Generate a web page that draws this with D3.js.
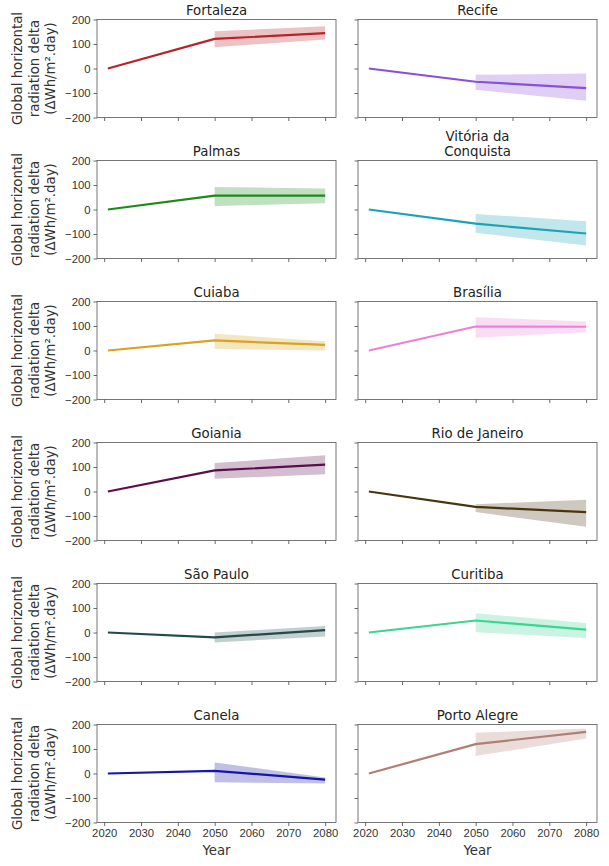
<!DOCTYPE html>
<html>
<head>
<meta charset="utf-8">
<script src="https://cdn.jsdelivr.net/npm/d3@7"></script>
<style>
body { margin: 0; background: #fff; }
svg { display: block; font-family: "DejaVu Sans", sans-serif; }
</style>
</head>
<body>
<svg id="chart" width="609" height="866"></svg>
<script>
const cities = ["Fortaleza", "Recife", "Palmas", "Vitória da\nConquista", "Cuiaba", "Brasília",
  "Goiania", "Rio de Janeiro", "São Paulo", "Curitiba", "Canela", "Porto Alegre"];
const years = [2021, 2050, 2080];
const bandYears = [2050, 2080];
const lineValues = [
  [0, 121, 144],
  [0, -54, -80],
  [0, 57, 57],
  [0, -58, -98],
  [0, 41, 23],
  [0, 98, 97],
  [0, 86, 110],
  [0, -63, -84],
  [0, -20, 10],
  [0, 49, 12],
  [0, 11, -25],
  [0, 120, 170]
];
const bandLow = [
  [87, 118], [-87, -132], [14, 26], [-95, -147], [7, 0], [52, 75],
  [52, 70], [-84, -144], [-41, -16], [1, -22], [-36, -41], [71, 143]
];
const bandHigh = [
  [152, 172], [-26, -20], [92, 86], [-18, -48], [68, 38], [136, 118],
  [116, 148], [-52, -34], [0, 27], [79, 39], [45, -16], [166, 184]
];
const colors = ["#b8232a", "#8a4fd6", "#1b8a1b", "#1aa2b6", "#d9a21f", "#ec80d8",
  "#5a0f4c", "#4a3410", "#224a4a", "#3ad690", "#1515a8", "#b07e74"];
const yTicks = [-200, -100, 0, 100, 200];
const xTicks = [2020, 2030, 2040, 2050, 2060, 2070, 2080];
const yLabelLines = ["Global horizontal", "radiation delta", "(ΔWh/m².day)"];

const svg = d3.select("#chart");
const colX = [97, 358];
const panelW = 239;
const rowTop0 = 19.5;
const rowStep = 141;
const panelH = 98;

const x = d3.scaleLinear().domain([2021 - 59 * 0.05, 2080 + 59 * 0.05]).range([0, panelW]);
const y = d3.scaleLinear().domain([-200, 200]).range([panelH, 0]);

cities.forEach((name, i) => {
  const col = i % 2, row = Math.floor(i / 2);
  const g = svg.append("g").attr("transform", `translate(${colX[col]},${rowTop0 + row * rowStep})`);

  const bandData = bandYears.map((yr, k) => ({ yr, lo: bandLow[i][k], hi: bandHigh[i][k] }));
  g.append("path")
    .datum(bandData)
    .attr("d", d3.area().x(d => x(d.yr)).y0(d => y(d.lo)).y1(d => y(d.hi)))
    .attr("fill", colors[i]).attr("fill-opacity", 0.27).attr("stroke", "none");

  const lineData = years.map((yr, k) => ({ yr, v: lineValues[i][k] }));
  g.append("path")
    .datum(lineData)
    .attr("d", d3.line().x(d => x(d.yr)).y(d => y(d.v)))
    .attr("fill", "none").attr("stroke", colors[i]).attr("stroke-width", 2.2)
    .attr("stroke-linejoin", "round");

  const yAxis = d3.axisLeft(y).tickValues(yTicks).tickSize(3.5).tickPadding(3)
    .tickFormat(col === 0 ? (d => d < 0 ? "\u2212" + Math.abs(d) : d) : () => "");
  const ya = g.append("g").call(yAxis);
  const xAxis = d3.axisBottom(x).tickValues(xTicks).tickSize(3.5).tickPadding(3)
    .tickFormat(row === 5 ? d3.format("d") : () => "");
  const xa = g.append("g").attr("transform", `translate(0,${panelH})`).call(xAxis);
  [ya, xa].forEach(a => {
    a.select(".domain").remove();
    a.selectAll("line").attr("stroke", "#444").attr("stroke-width", 0.8);
    a.selectAll("text").attr("fill", "#333").style("font-size", "11.3px");
  });

  g.append("rect").attr("width", panelW).attr("height", panelH)
    .attr("fill", "none").attr("stroke", "#555").attr("stroke-width", 0.8);

  const lines = name.split("\n");
  lines.forEach((t, k) => {
    g.append("text").attr("x", panelW / 2).attr("y", -5 - (lines.length - 1 - k) * 15)
      .attr("text-anchor", "middle").attr("fill", "#222").style("font-size", "13.3px").text(t);
  });

  if (col === 0) {
    yLabelLines.forEach((t, k) => {
      g.append("text")
        .attr("transform", `translate(${-75 + k * 16.5},${panelH / 2}) rotate(-90)`)
        .attr("text-anchor", "middle").attr("fill", "#333").style("font-size", "13.3px").text(t);
    });
  }
  if (row === 5) {
    g.append("text").attr("x", panelW / 2).attr("y", panelH + 32)
      .attr("text-anchor", "middle").attr("fill", "#333").style("font-size", "13.3px").text("Year");
  }
});
</script>
</body>
</html>
